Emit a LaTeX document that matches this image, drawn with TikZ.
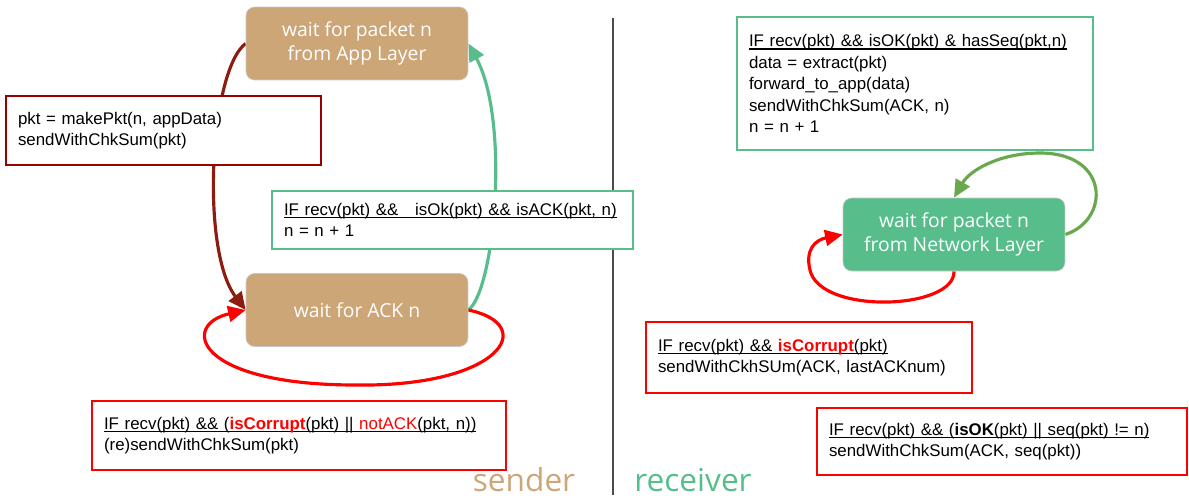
\documentclass[tikz,border=0pt]{standalone}
\usepackage{fontspec}
\setmainfont{Liberation Sans}
\newfontfamily\statefont{Open Sans}
\usetikzlibrary{arrows.meta,backgrounds}
\definecolor{sendtan}{RGB}{204,166,119}
\definecolor{recvgreen}{RGB}{87,189,139}
\definecolor{loopgreen}{RGB}{106,168,79}
\definecolor{arrowred}{RGB}{140,28,16}
\definecolor{boxred}{RGB}{153,0,0}
\tikzset{line/.style={line width=1.8pt, -{Triangle[length=10pt,width=9pt]}}}
\newlength\guardwd
\newcommand{\guard}[1]{\settowidth{\guardwd}{#1}\rlap{\rule[-1.6pt]{\guardwd}{0.7pt}}#1}
\newcommand{\hot}[1]{\textcolor{red}{\textbf{#1}}}

\begin{document}
\begin{tikzpicture}[x=0.02cm, y=-0.02cm,
  state/.style = {draw=gray!45, rounded corners=5pt, minimum width=4.44cm, minimum height=1.46cm, text=white, align=center, font=\statefont\fontsize{11}{13.8}\selectfont},
  cond/.style = {draw, line width=1.3pt, fill=white, align=left, inner xsep=0.24cm, font=\fontsize{9.6}{12.2}\selectfont},
  side/.style = {font=\statefont\fontsize{18}{20}\selectfont}]
\useasboundingbox (0,0) rectangle (1189,498);
% states
\node[state, fill=sendtan] (app) at (357,43.5) {wait for packet n\\from App Layer};
\node[state, fill=sendtan] (ack) at (357,310) {wait for ACK n};
\node[state, fill=recvgreen] (net) at (954,234.5) {wait for packet n\\from Network Layer};
% sender guards
\node[cond, draw=boxred, text width=5.82cm, minimum height=1.38cm] (mk) at (163.5,130.5) {pkt = makePkt(n, appData)\\sendWithChkSum(pkt)};
\node[cond, draw=recvgreen, text width=6.74cm, minimum height=1.16cm] (okack) at (452.5,220) {\guard{IF recv(pkt) \&\&\ \ \ isOk(pkt) \&\& isACK(pkt, n)}\\n = n + 1};
\node[cond, draw=red, text width=7.8cm, minimum height=1.38cm] (scor) at (299,435.5) {\guard{IF recv(pkt) \&\& (\hot{isCorrupt}(pkt) || \textcolor{red}{notACK}(pkt, n))}\\(re)sendWithChkSum(pkt)};
% receiver guards
\node[cond, draw=recvgreen, text width=6.64cm, minimum height=2.66cm] (rok) at (915,83.5) {\guard{IF recv(pkt) \&\& isOK(pkt) \& hasSeq(pkt,n)}\\data = extract(pkt)\\forward\_to\_app(data)\\sendWithChkSum(ACK, n)\\n = n + 1};
\node[cond, draw=red, text width=6.04cm, minimum height=1.42cm] (rcor) at (809,357.5) {\guard{IF recv(pkt) \&\& \hot{isCorrupt}(pkt)}\\sendWithCkhSUm(ACK, lastACKnum)};
\node[cond, draw=red, text width=6.92cm, minimum height=1.34cm] (rnok) at (1002,441.5) {\guard{IF recv(pkt) \&\& (\textbf{isOK}(pkt) || seq(pkt) != n)}\\sendWithChkSum(ACK, seq(pkt))};
% labels
\node[side, text=sendtan] (sender) at (524,480) {sender};
\node[side, text=recvgreen] (receiver) at (693,480) {receiver};
\begin{scope}[on background layer]
\draw[line width=1pt, black!70] (613,18) -- (613,495);
\draw[line, arrowred] (app.west) .. controls (210,70) and (200,250) .. (ack.west);
\draw[line, recvgreen] (ack.east) .. controls (495,290) and (510,120) .. (app.east);
\draw[line, red] (ack.east) .. controls (540,325) and (500,387) .. (356,385) .. controls (195,385) and (180,325) .. (ack.west);
\draw[line, loopgreen] (net.east) .. controls (1110,220) and (1110,153) .. (1040,153) .. controls (1000,153) and (970,170) .. (net.north);
\draw[line, red] (net.south) .. controls (955,310) and (820,315) .. (810,270) .. controls (805,250) and (815,240) .. (net.west);
\end{scope}
\end{tikzpicture}
\end{document}
